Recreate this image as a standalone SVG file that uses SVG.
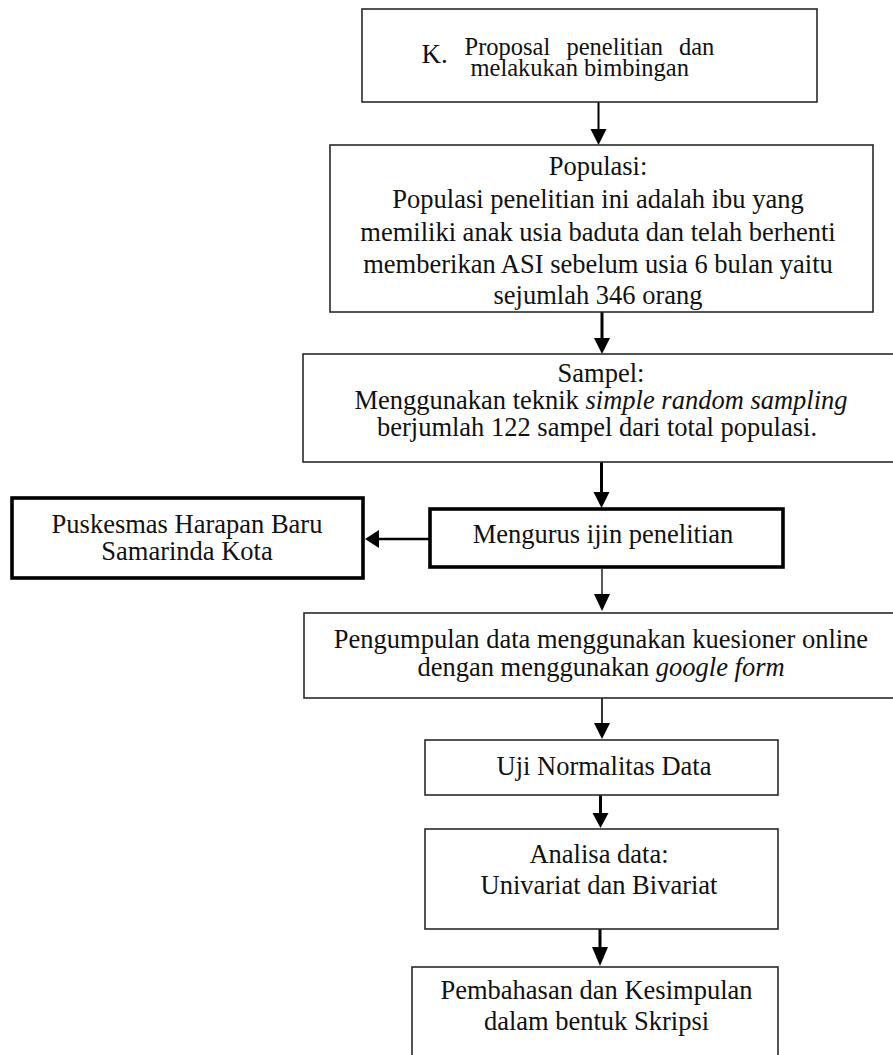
<svg xmlns="http://www.w3.org/2000/svg" width="893" height="1055" viewBox="0 0 893 1055">
<defs>
<style>
.box{fill:#fff;stroke:#2a2a2a;stroke-width:1.6}
.boxb{fill:#fff;stroke:#000;stroke-width:3.6}
.t{font-family:"Liberation Serif","Times New Roman",serif;font-size:26.5px;fill:#111;text-anchor:middle}
.ts{font-family:"Liberation Serif","Times New Roman",serif;font-size:24.5px;fill:#111}
.c{fill:none;stroke:#000}
.head{fill:#000}
</style>
</defs>
<rect width="893" height="1055" fill="#fff"/>
<g id="connectors">
<line class="c" x1="598.5" y1="102" x2="598.5" y2="130" stroke-width="2"/>
<path class="head" d="M590.5,129 L606.5,129 L598.5,145 z"/>
<line class="c" x1="602" y1="312" x2="602" y2="339" stroke-width="3"/>
<path class="head" d="M594,338 L610,338 L602,354 z"/>
<line class="c" x1="601.5" y1="462" x2="601.5" y2="493" stroke-width="3"/>
<path class="head" d="M593.5,492 L609.5,492 L601.5,508 z"/>
<line class="c" x1="430" y1="539" x2="378" y2="539" stroke-width="2.4"/>
<path class="head" d="M379,530 L379,548 L365,539 z"/>
<line class="c" x1="602" y1="569" x2="602" y2="595" stroke-width="1.3"/>
<path class="head" d="M594,594 L610,594 L602,611 z"/>
<line class="c" x1="602" y1="698" x2="602" y2="724" stroke-width="1.6"/>
<path class="head" d="M594,723 L610,723 L602,739 z"/>
<line class="c" x1="600.5" y1="795" x2="600.5" y2="814" stroke-width="3"/>
<path class="head" d="M592.5,813 L608.5,813 L600.5,828 z"/>
<line class="c" x1="600" y1="929" x2="600" y2="948" stroke-width="3"/>
<path class="head" d="M592,947 L608,947 L600,966 z"/>
</g>
<g id="node-proposal">
<rect class="box" x="362" y="9" width="455" height="93"/>
<text x="421.5" y="63" font-family="Liberation Serif, serif" font-size="27" fill="#111">K.</text>
<text class="ts" y="54.5"><tspan x="464.5">Proposal</tspan><tspan x="566.5">penelitian</tspan><tspan x="679">dan</tspan></text>
<text class="ts" x="470.5" y="75.5">melakukan bimbingan</text>
</g>
<g id="node-populasi">
<rect class="box" x="330" y="145" width="543" height="167"/>
<text class="t" x="598" y="175">Populasi:</text>
<text class="t" x="598" y="208">Populasi penelitian ini adalah ibu yang</text>
<text class="t" x="598" y="241">memiliki anak usia baduta dan telah berhenti</text>
<text class="t" x="598" y="273">memberikan ASI sebelum usia 6 bulan yaitu</text>
<text class="t" x="598" y="304">sejumlah 346 orang</text>
</g>
<g id="node-sampel">
<rect class="box" x="303" y="354" width="610" height="108"/>
<text class="t" x="601" y="382">Sampel:</text>
<text class="t" x="601" y="409">Menggunakan teknik <tspan font-style="italic">simple random sampling</tspan></text>
<text class="t" x="597" y="436">berjumlah 122 sampel dari total populasi.</text>
</g>
<g id="node-ijin">
<rect class="boxb" x="430" y="509" width="353" height="58"/>
<text class="t" x="603" y="543">Mengurus ijin penelitian</text>
</g>
<g id="node-puskesmas">
<rect class="boxb" x="12" y="498" width="351" height="80"/>
<text class="t" x="187" y="533">Puskesmas Harapan Baru</text>
<text class="t" x="187" y="560">Samarinda Kota</text>
</g>
<g id="node-pengumpulan">
<rect class="box" x="304" y="613" width="610" height="85"/>
<text class="t" x="601" y="648">Pengumpulan data menggunakan kuesioner online</text>
<text class="t" x="601" y="676">dengan menggunakan <tspan font-style="italic">google form</tspan></text>
</g>
<g id="node-uji">
<rect class="box" x="425" y="740" width="353" height="55"/>
<text class="t" x="604" y="775">Uji Normalitas Data</text>
</g>
<g id="node-analisa">
<rect class="box" x="425" y="829" width="353" height="100"/>
<text class="t" x="599" y="863">Analisa data:</text>
<text class="t" x="599" y="894">Univariat dan Bivariat</text>
</g>
<g id="node-pembahasan">
<rect class="box" x="412" y="967" width="366" height="100"/>
<text class="t" x="596.5" y="999">Pembahasan dan Kesimpulan</text>
<text class="t" x="596.5" y="1030">dalam bentuk Skripsi</text>
</g>
</svg>
